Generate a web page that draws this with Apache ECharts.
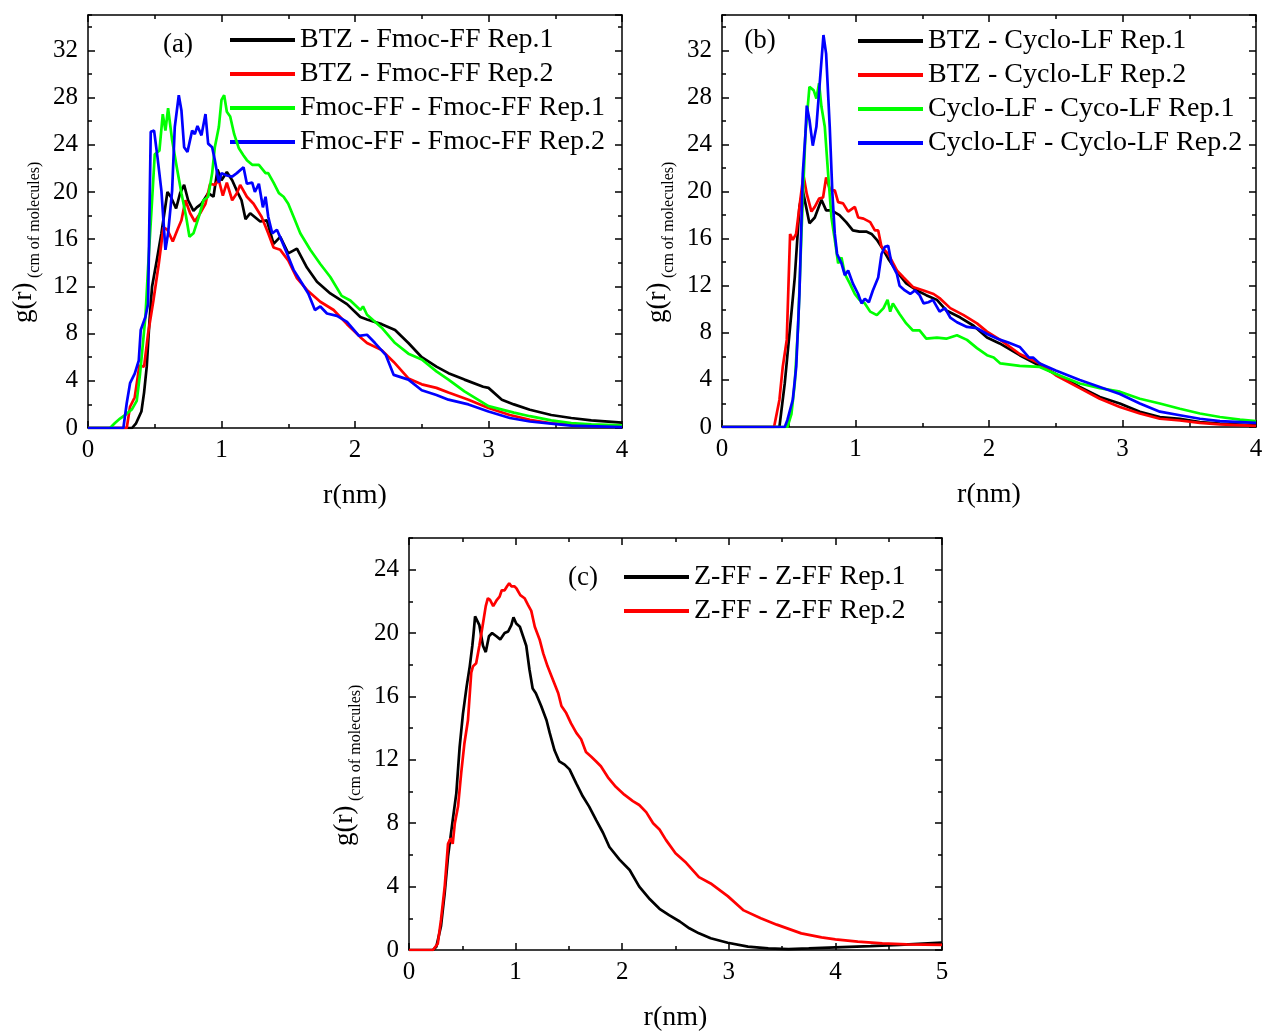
<!DOCTYPE html>
<html>
<head>
<meta charset="utf-8">
<script src="https://cdn.jsdelivr.net/npm/echarts@6/dist/echarts.min.js"></script>
<style>
html,body{margin:0;padding:0;background:#fff;}
#chart{width:1267px;height:1032px;}
</style>
</head>
<body>
<div id="chart"></div>
<script>
// ---------- DATA: [r (nm), g(r)] ----------
// Panel (a)
var A_BTZ_FMOC_REP1 = [[0,0],[0.33,0],[0.36,0.4],[0.40,1.4],[0.42,3],[0.44,5.2],[0.46,9],[0.48,12],[0.515,14.2],[0.55,16.5],[0.595,20],[0.62,19.6],[0.66,18.6],[0.69,19.9],[0.72,20.6],[0.75,19.3],[0.79,18.4],[0.815,18.7],[0.85,19],[0.90,19.9],[0.94,19.6],[0.97,21.9],[1.0,21],[1.04,21.7],[1.08,21],[1.115,20.1],[1.15,19.3],[1.18,17.7],[1.215,18.2],[1.29,17.5],[1.34,17.6],[1.39,15.6],[1.44,16.2],[1.50,14.8],[1.565,15.2],[1.64,13.6],[1.715,12.4],[1.815,11.4],[1.94,10.5],[2.04,9.4],[2.09,9.2],[2.2,8.8],[2.3,8.3],[2.4,7.2],[2.5,6.0],[2.61,5.2],[2.7,4.65],[2.82,4.1],[2.96,3.5],[3.0,3.4],[3.1,2.4],[3.19,2.0],[3.31,1.55],[3.47,1.1],[3.62,0.85],[3.77,0.65],[4.0,0.45]];
var A_BTZ_FMOC_REP2 = [[0,0],[0.29,0],[0.315,1.8],[0.35,2.6],[0.385,5.3],[0.42,5.2],[0.45,8],[0.49,10.8],[0.53,13.9],[0.565,17],[0.595,16.8],[0.635,15.8],[0.67,16.8],[0.70,17.6],[0.73,19.3],[0.765,18.2],[0.80,17.5],[0.84,18.2],[0.88,19],[0.915,20.7],[0.95,20.6],[0.98,21],[1.01,19.7],[1.04,20.8],[1.08,19.3],[1.115,19.9],[1.14,20.6],[1.19,19.6],[1.24,19],[1.30,17.9],[1.35,16.5],[1.39,15.3],[1.44,15.1],[1.50,14.2],[1.565,12.7],[1.64,11.7],[1.74,10.7],[1.84,10],[1.94,8.8],[2.04,7.7],[2.09,7.2],[2.2,6.6],[2.29,5.6],[2.4,4.2],[2.5,3.7],[2.61,3.4],[2.7,3.0],[2.85,2.4],[3.0,1.7],[3.16,1.1],[3.31,0.7],[3.47,0.4],[3.62,0.28],[4.0,0.15]];
var A_FMOC_FMOC_REP1 = [[0,0],[0.165,0],[0.2,0.4],[0.24,0.8],[0.29,1.2],[0.33,1.6],[0.365,2.3],[0.39,4.6],[0.43,9.4],[0.45,13.6],[0.48,19.3],[0.50,23.2],[0.535,23.5],[0.56,26.6],[0.58,25.2],[0.60,27.1],[0.63,24.4],[0.665,22.1],[0.70,19.9],[0.735,17.9],[0.76,16.2],[0.79,16.5],[0.83,17.9],[0.865,19.3],[0.90,19.6],[0.93,21.6],[0.95,23.8],[0.98,25.5],[1.0,27.8],[1.02,28.2],[1.04,26.8],[1.065,26.4],[1.095,24.9],[1.13,23.7],[1.165,23.1],[1.19,22.7],[1.23,22.3],[1.28,22.3],[1.33,21.6],[1.35,21.6],[1.39,20.8],[1.43,19.9],[1.465,19.6],[1.50,19],[1.54,17.9],[1.59,16.5],[1.665,15.1],[1.74,13.9],[1.815,12.8],[1.90,11.2],[1.965,10.8],[2.04,10],[2.06,10.3],[2.09,9.6],[2.2,8.5],[2.3,7.2],[2.4,6.3],[2.5,5.8],[2.61,4.8],[2.7,4.1],[2.82,3.1],[3.0,1.85],[3.19,1.3],[3.31,1.0],[3.47,0.65],[3.62,0.42],[3.77,0.3],[4.0,0.22]];
var A_FMOC_FMOC_REP2 = [[0,0],[0.265,0],[0.29,2.1],[0.315,3.8],[0.35,4.6],[0.38,5.7],[0.395,8.3],[0.43,9.4],[0.45,10.5],[0.47,25.1],[0.495,25.2],[0.52,23],[0.55,20.1],[0.58,15.1],[0.60,16.5],[0.63,20.1],[0.65,25.5],[0.68,28.2],[0.70,26.9],[0.72,23.8],[0.745,23.4],[0.78,25.2],[0.80,24.9],[0.82,25.6],[0.85,24.8],[0.88,26.6],[0.90,24.1],[0.93,23.8],[0.95,22.7],[0.98,20.8],[1.0,21.6],[1.04,21.4],[1.08,21.3],[1.115,21.6],[1.165,22.1],[1.19,20.7],[1.23,20.8],[1.25,20],[1.28,20.7],[1.31,18.7],[1.33,19.6],[1.35,17.9],[1.38,16.5],[1.415,16.8],[1.45,15.9],[1.49,14.8],[1.54,13.4],[1.59,12.5],[1.65,11.4],[1.70,10],[1.74,10.3],[1.79,9.7],[1.865,9.5],[1.94,9],[2.03,7.8],[2.09,7.9],[2.15,7.2],[2.23,6.2],[2.29,4.5],[2.4,4.1],[2.5,3.2],[2.61,2.8],[2.7,2.4],[2.85,2.0],[3.0,1.4],[3.16,0.85],[3.31,0.55],[3.47,0.37],[3.62,0.2],[4.0,0.08]];

// Panel (b)
var B_BTZ_CYCLO_REP1 = [[0,0],[0.43,0],[0.47,3.7],[0.505,7.9],[0.545,12.7],[0.58,18.7],[0.605,20.1],[0.63,18.7],[0.655,17.3],[0.695,17.8],[0.745,19.3],[0.78,18.4],[0.82,18.4],[0.88,18],[0.93,17.4],[0.98,16.7],[1.03,16.6],[1.08,16.6],[1.12,16.4],[1.16,15.9],[1.195,15.3],[1.245,14.3],[1.31,13.2],[1.38,12.2],[1.46,11.6],[1.53,11.2],[1.61,10.8],[1.68,9.9],[1.785,9.3],[1.885,8.6],[1.985,7.6],[2.08,7.1],[2.23,6.1],[2.38,5.2],[2.5,4.5],[2.68,3.4],[2.83,2.55],[2.98,2.0],[3.13,1.3],[3.28,0.85],[3.43,0.7],[3.58,0.42],[3.73,0.28],[4.0,0.15]];
var B_BTZ_CYCLO_REP2 = [[0,0],[0.39,0],[0.43,2.3],[0.455,5.1],[0.485,7.4],[0.51,16.4],[0.53,15.9],[0.555,16.4],[0.58,18.7],[0.61,21.4],[0.635,19.8],[0.67,18.3],[0.695,18.7],[0.727,19.4],[0.757,19.5],[0.78,21.2],[0.81,20.1],[0.845,20.1],[0.87,19.1],[0.907,19],[0.945,18.3],[0.995,18.7],[1.02,17.8],[1.06,17.7],[1.11,17.4],[1.145,16.7],[1.17,16.7],[1.195,15.3],[1.245,14.7],[1.31,13.3],[1.36,12.7],[1.43,11.9],[1.51,11.6],[1.585,11.3],[1.635,10.9],[1.71,10.1],[1.81,9.5],[1.91,8.8],[1.985,8.1],[2.085,7.4],[2.23,6.2],[2.38,5.4],[2.5,4.4],[2.68,3.3],[2.83,2.4],[2.98,1.7],[3.13,1.15],[3.28,0.7],[3.43,0.55],[3.58,0.35],[3.73,0.22],[4.0,0.1]];
var B_CYCLO_CYCLO_REP1 = [[0,0],[0.49,0],[0.52,1.1],[0.545,3.7],[0.57,8.5],[0.595,16.4],[0.625,24.9],[0.655,28.9],[0.687,28.6],[0.707,27.9],[0.727,29.2],[0.745,27.2],[0.77,25.5],[0.795,21.5],[0.82,17.8],[0.845,15.9],[0.87,13.9],[0.895,14.4],[0.92,13],[0.957,12.2],[0.995,11.3],[1.03,10.8],[1.07,10.5],[1.11,9.8],[1.16,9.5],[1.21,10.1],[1.24,10.8],[1.26,9.8],[1.28,10.5],[1.33,9.6],[1.38,8.8],[1.43,8.2],[1.48,8.2],[1.53,7.5],[1.61,7.6],[1.68,7.5],[1.76,7.8],[1.835,7.4],[1.91,6.7],[1.985,6.1],[2.035,5.9],[2.085,5.4],[2.23,5.2],[2.38,5.1],[2.5,4.5],[2.68,3.7],[2.83,3.3],[2.98,3.0],[3.13,2.4],[3.28,2.0],[3.43,1.55],[3.58,1.15],[3.73,0.85],[3.88,0.62],[4.0,0.5]];
var B_CYCLO_CYCLO_REP2 = [[0,0],[0.47,0],[0.49,0.6],[0.53,2.3],[0.556,5.1],[0.58,11.3],[0.605,21.5],[0.625,24.9],[0.635,27.3],[0.655,26.1],[0.68,23.9],[0.707,25.5],[0.73,28.9],[0.76,33.3],[0.78,31.7],[0.807,25.5],[0.827,19.8],[0.845,16.4],[0.862,14.7],[0.895,13.9],[0.92,12.9],[0.945,13.3],[0.98,12.2],[1.02,11.3],[1.045,10.5],[1.07,10.9],[1.10,10.6],[1.13,11.6],[1.17,12.7],[1.195,14.7],[1.22,15.3],[1.245,15.4],[1.27,13.9],[1.31,13],[1.33,12],[1.37,11.6],[1.41,11.3],[1.446,11.6],[1.48,11.2],[1.51,10.5],[1.546,10.6],[1.58,10.8],[1.63,9.8],[1.67,10.1],[1.71,9.3],[1.76,8.9],[1.835,8.5],[1.91,8.4],[1.985,7.9],[2.085,7.4],[2.14,7.2],[2.23,6.8],[2.3,5.9],[2.33,5.9],[2.38,5.4],[2.5,4.8],[2.68,4.0],[2.83,3.4],[2.98,2.8],[3.13,2.0],[3.28,1.3],[3.43,1.0],[3.58,0.7],[3.73,0.5],[4.0,0.35]];

// Panel (c)
var C_ZFF_REP1 = [[0,0],[0.225,0],[0.256,0.2],[0.30,1.5],[0.335,3.6],[0.366,5.9],[0.41,8.2],[0.444,9.9],[0.475,12.8],[0.506,14.9],[0.54,16.6],[0.57,17.9],[0.594,19.2],[0.606,20],[0.62,21.05],[0.66,20.5],[0.694,19.2],[0.72,18.8],[0.75,19.8],[0.78,20.0],[0.82,19.8],[0.856,19.6],[0.897,20],[0.93,20.1],[0.96,20.5],[0.98,21],[1.006,20.6],[1.04,20.4],[1.07,19.8],[1.10,19.2],[1.13,17.7],[1.16,16.5],[1.19,16.2],[1.24,15.4],[1.29,14.5],[1.32,13.7],[1.365,12.6],[1.41,11.9],[1.46,11.7],[1.506,11.4],[1.57,10.5],[1.63,9.7],[1.69,9.05],[1.756,8.2],[1.82,7.4],[1.88,6.5],[1.975,5.7],[2.07,5.05],[2.16,4.0],[2.26,3.2],[2.35,2.6],[2.44,2.2],[2.54,1.8],[2.63,1.37],[2.72,1.05],[2.83,0.74],[2.99,0.46],[3.18,0.21],[3.37,0.1],[3.56,0.06],[3.75,0.1],[4.0,0.17],[4.33,0.25],[4.6,0.32],[5.0,0.46]];
var C_ZFF_REP2 = [[0,0],[0.225,0],[0.27,0.4],[0.30,1.9],[0.335,4.0],[0.366,6.7],[0.39,7.05],[0.41,6.7],[0.43,8.0],[0.46,9.05],[0.49,11.2],[0.52,13.05],[0.553,14.5],[0.584,17.5],[0.60,17.9],[0.63,18.1],[0.66,19.2],[0.694,20.6],[0.72,21.7],[0.74,22.2],[0.76,22.1],[0.79,21.7],[0.825,22.1],[0.85,22.3],[0.87,22.7],[0.897,22.7],[0.92,22.95],[0.94,23.15],[0.96,22.95],[0.99,22.95],[1.01,22.8],[1.044,22.4],[1.084,22.2],[1.115,21.8],[1.147,21.4],[1.18,20.4],[1.225,19.6],[1.26,18.7],[1.30,17.9],[1.35,17.05],[1.40,16.2],[1.43,15.4],[1.475,14.95],[1.52,14.3],[1.57,13.7],[1.615,13.3],[1.66,12.5],[1.71,12.2],[1.756,11.9],[1.80,11.6],[1.866,10.9],[1.94,10.3],[2.02,9.8],[2.1,9.4],[2.16,9.15],[2.225,8.7],[2.29,8.0],[2.35,7.6],[2.41,6.95],[2.5,6.1],[2.6,5.5],[2.72,4.6],[2.83,4.2],[2.99,3.4],[3.14,2.5],[3.3,2.0],[3.45,1.6],[3.68,1.05],[3.87,0.8],[4.0,0.67],[4.21,0.53],[4.44,0.42],[4.67,0.36],[5.0,0.32]];

var LABELS_A = ['BTZ - Fmoc-FF Rep.1','BTZ - Fmoc-FF Rep.2','Fmoc-FF - Fmoc-FF Rep.1','Fmoc-FF - Fmoc-FF Rep.2'];
var LABELS_B = ['BTZ - Cyclo-LF Rep.1','BTZ - Cyclo-LF Rep.2','Cyclo-LF - Cyco-LF Rep.1','Cyclo-LF - Cyclo-LF Rep.2'];
var LABELS_C = ['Z-FF - Z-FF Rep.1','Z-FF - Z-FF Rep.2'];
var PANEL_TAGS = ['(a)','(b)','(c)'];
var X_MAX = [4, 4, 5];
var Y_MAX = [35, 35, 26];
var X_STEP = 1, Y_STEP = 4;
var X_TITLE = 'r(nm)';
var Y_TITLE = 'g(r)', Y_SUB = '(cm of molecules)';

// ---------- LAYOUT ----------
var FONT = "'Liberation Serif','Times New Roman',serif";
var COLORS = ['#000000','#ff0000','#00ff00','#0000ff'];
var GRIDS = [
  {left:88, top:15, width:534, height:413},
  {left:722, top:15, width:534, height:412},
  {left:409, top:538, width:533, height:412}
];
var LEGEND_POS = [{left:230, top:23},{left:858, top:24},{left:624, top:560}];
var TAG_POS = [[178,45],[760,41],[583,578]];

var chart = echarts.init(document.getElementById('chart'), null, {renderer:'canvas'});
var lineW = 1.5;
var xAxes = [], yAxes = [], series = [], legends = [], graphics = [];

function xAxis(p, pos, labels) {
  return {
    type:'value', gridIndex:p, position:pos, min:0, max:X_MAX[p], interval:X_STEP,
    axisLine:{show:true, onZero:false, lineStyle:{color:'#000', width:lineW}},
    axisTick:{show:true, inside:true, length:7, lineStyle:{color:'#000', width:lineW}},
    minorTick:{show:true, splitNumber:2, length:4, lineStyle:{color:'#000', width:lineW}},
    splitLine:{show:false}, minorSplitLine:{show:false},
    axisLabel:{show:labels, margin:10, color:'#000', fontSize:25, fontFamily:FONT},
    name: labels ? X_TITLE : '', nameLocation:'middle', nameGap:54,
    nameTextStyle:{color:'#000', fontSize:28, fontFamily:FONT}
  };
}
function yAxis(p, pos, major) {
  return {
    type:'value', gridIndex:p, position:pos, min:0, max:Y_MAX[p], interval: major ? Y_STEP : Y_STEP/2,
    axisLine:{show:major, onZero:false, lineStyle:{color:'#000', width:lineW}},
    axisTick:{show:true, inside:true, length: major ? 7 : 4, lineStyle:{color:'#000', width:lineW}},
    splitLine:{show:false},
    axisLabel:{show: major && pos==='left', showMaxLabel:false, margin:10, color:'#000', fontSize:25, fontFamily:FONT}
  };
}

var panelData = [
  [A_BTZ_FMOC_REP1, A_BTZ_FMOC_REP2, A_FMOC_FMOC_REP1, A_FMOC_FMOC_REP2],
  [B_BTZ_CYCLO_REP1, B_BTZ_CYCLO_REP2, B_CYCLO_CYCLO_REP1, B_CYCLO_CYCLO_REP2],
  [C_ZFF_REP1, C_ZFF_REP2]
];
var panelLabels = [LABELS_A, LABELS_B, LABELS_C];

for (var p = 0; p < 3; p++) {
  xAxes.push(xAxis(p, 'bottom', true));
  xAxes.push(xAxis(p, 'top', false));
  yAxes.push(yAxis(p, 'left', true));
  yAxes.push(yAxis(p, 'left', false));
  yAxes.push(yAxis(p, 'right', true));
  yAxes.push(yAxis(p, 'right', false));
  var names = [];
  for (var s = 0; s < panelData[p].length; s++) {
    var nm = panelLabels[p][s];
    names.push(nm);
    series.push({
      type:'line', name:nm, xAxisIndex:2*p, yAxisIndex:4*p,
      data: panelData[p][s], showSymbol:false, symbol:'none',
      lineStyle:{color:COLORS[s], width:2.7}, itemStyle:{color:COLORS[s]},
      z: 2 + s
    });
  }
  legends.push({
    data:names, orient:'vertical', left:LEGEND_POS[p].left, top:LEGEND_POS[p].top,
    padding:0, itemGap:0, itemWidth:65, itemHeight:4, icon:'rect',
    selectedMode:false,
    textStyle:{color:'#000', fontSize:28, fontFamily:FONT, lineHeight:34}
  });
  var g = GRIDS[p];
  graphics.push({
    type:'text', x:TAG_POS[p][0], y:TAG_POS[p][1],
    style:{text:PANEL_TAGS[p], font:'27px ' + FONT, fill:'#000', textAlign:'center', textVerticalAlign:'middle'}
  });
  graphics.push({
    type:'text', x:g.left - 64, y:g.top + 308, rotation:Math.PI/2,
    style:{text:Y_TITLE, font:'27px ' + FONT, fill:'#000', textAlign:'left', textVerticalAlign:'middle'}
  });
  graphics.push({
    type:'text', x:g.left - 53, y:g.top + 263, rotation:Math.PI/2,
    style:{text:Y_SUB, font:'16px ' + FONT, fill:'#000', textAlign:'left', textVerticalAlign:'middle'}
  });
}

chart.setOption({
  animation:false,
  backgroundColor:'#fff',
  grid: GRIDS.map(function(g){ return {left:g.left, top:g.top, width:g.width, height:g.height, containLabel:false, outerBoundsMode:'none'}; }),
  xAxis: xAxes,
  yAxis: yAxes,
  legend: legends,
  series: series,
  graphic: graphics
});
</script>
</body>
</html>
